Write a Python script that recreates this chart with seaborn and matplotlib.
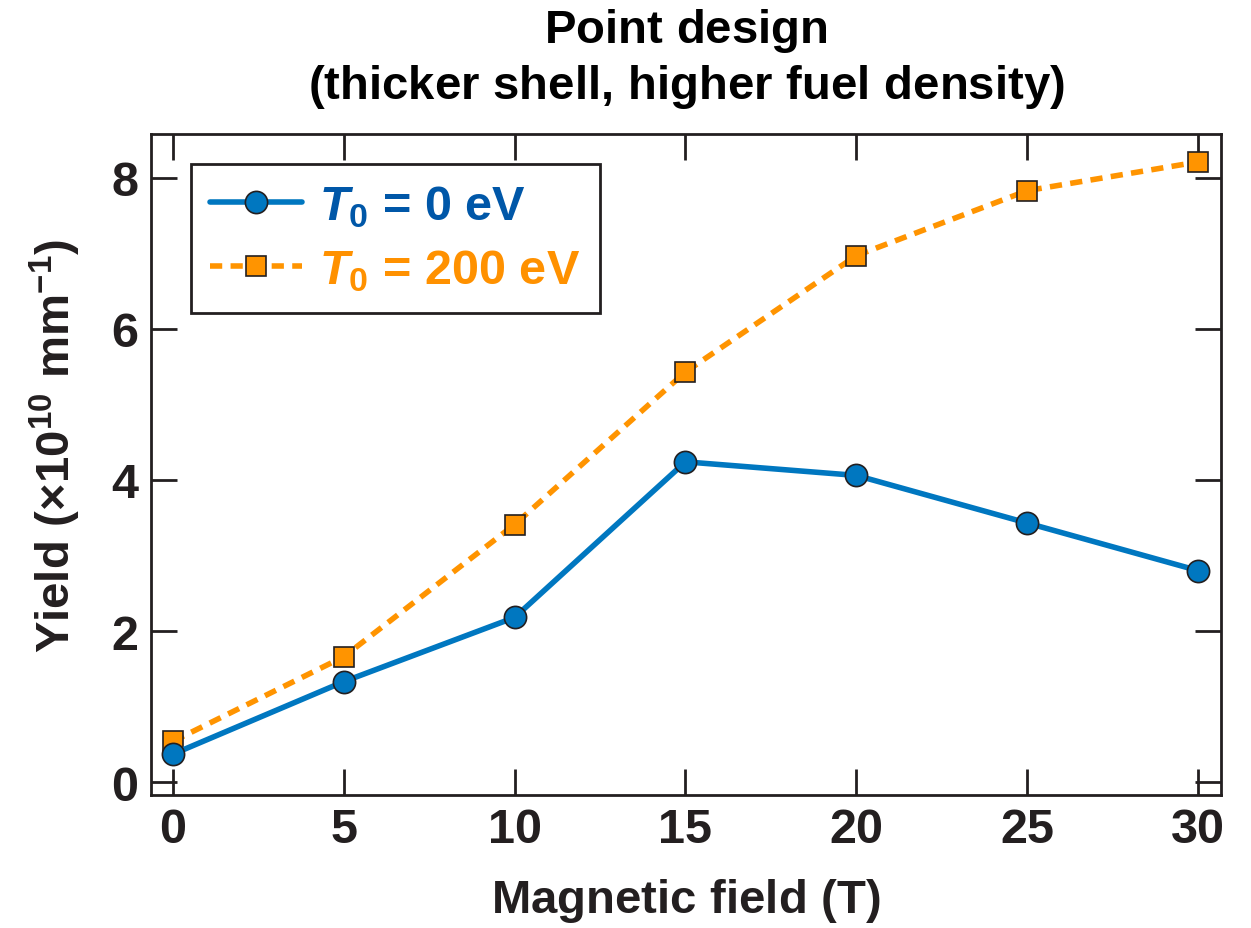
import numpy as np
import pandas as pd
import matplotlib
matplotlib.use("Agg")
import matplotlib.pyplot as plt
import seaborn as sns

# ---- data ----
field = [0, 5, 10, 15, 20, 25, 30]
yield_0ev = [0.37, 1.33, 2.18, 4.24, 4.06, 3.43, 2.80]
yield_200ev = [0.54, 1.66, 3.41, 5.43, 6.97, 7.83, 8.21]
x_ticks = [0, 5, 10, 15, 20, 25, 30]
y_ticks = [0, 2, 4, 6, 8]

sns.set_theme(style="white")
plt.rcParams['font.family'] = ['Liberation Sans', 'DejaVu Sans']
plt.rcParams['font.weight'] = 'bold'
plt.rcParams['mathtext.fontset'] = 'custom'
plt.rcParams['mathtext.rm'] = 'Liberation Sans'
plt.rcParams['mathtext.bf'] = 'Liberation Sans:bold'
plt.rcParams['mathtext.it'] = 'Liberation Sans:italic:bold'

blue = '#0077c0'
orange = '#ff9400'
ink = '#231f20'

df0 = pd.DataFrame({'B': field, 'Y': yield_0ev})
df200 = pd.DataFrame({'B': field, 'Y': yield_200ev})

fig = plt.figure(figsize=(12.51, 9.29), dpi=100)
ax = fig.add_axes([0.1207, 0.1432, 0.8553, 0.7115])

sns.lineplot(data=df200, x='B', y='Y', ax=ax, color=orange, linewidth=4.0,
             linestyle=(0, (2.2, 1.5)), marker='s', markersize=14.5,
             markerfacecolor=orange, markeredgecolor=ink, markeredgewidth=1.2,
             label=r'$T_\mathbf{0}$ = 200 eV', zorder=3)
sns.lineplot(data=df0, x='B', y='Y', ax=ax, color=blue, linewidth=4.0,
             marker='o', markersize=16,
             markerfacecolor=blue, markeredgecolor=ink, markeredgewidth=1.2,
             label=r'$T_\mathbf{0}$ = 0 eV', zorder=4)

ax.set_xlim(-0.64, 30.67)
ax.set_ylim(-0.17, 8.58)
ax.set_xticks(x_ticks)
ax.set_yticks(y_ticks)
ax.tick_params(direction='in', length=19, width=2, top=True, right=True,
               bottom=True, left=True, labelsize=35, colors=ink, pad=9)
for s in ax.spines.values():
    s.set_linewidth(2)
    s.set_color(ink)
    s.set_visible(True)

ax.set_xlabel(r'$\mathbf{Magnetic\ field}\ \mathrm{(}\mathbf{T}\mathrm{)}$',
              fontsize=34, color=ink, labelpad=17)
ax.set_ylabel(r'$\mathbf{Yield}\ \mathrm{(\times}\mathbf{10^{10}\ mm^{-1}}\mathrm{)}$',
              fontsize=34, color=ink)
ax.yaxis.set_label_coords(-0.064, 0.53)
ax.set_title('$\\mathbf{Point\\ design}$\n'
             '$\\mathrm{(}\\mathbf{thicker\\ shell{,}\\ higher\\ fuel\\ density}\\mathrm{)}$',
             fontsize=34, color='black', pad=26, linespacing=1.22)

# legend: 0 eV first, then 200 eV
h, l = ax.get_legend_handles_labels()
order = [1, 0]
leg = ax.legend([h[i] for i in order], [l[i] for i in order],
                loc='upper left', bbox_to_anchor=(0.037, 0.955), fontsize=35,
                frameon=True, fancybox=False, framealpha=1, edgecolor=ink,
                handlelength=1.9, handletextpad=0.35, borderpad=0.4,
                labelspacing=0.38, borderaxespad=0)
leg.get_frame().set_linewidth(2)
for txt, c in zip(leg.get_texts(), ['#0057a8', '#ff9100']):
    txt.set_color(c)

fig.savefig('out.png', dpi=100)
